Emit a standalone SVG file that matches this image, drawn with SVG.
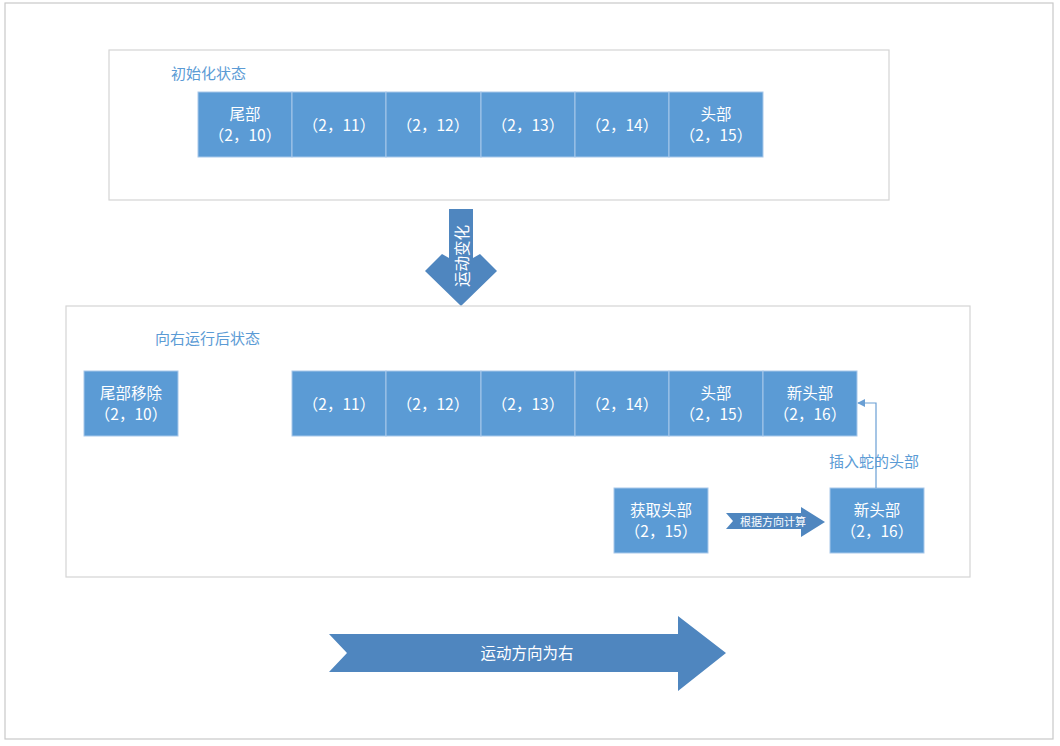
<svg xmlns="http://www.w3.org/2000/svg" width="1060" height="746" viewBox="0 0 1060 746">
<style>
.frame{fill:#fff;stroke:#c9c9c9;stroke-width:1.2}
.panel{fill:#fff;stroke:#d4d4d4;stroke-width:1.2}
.cell{fill:#5b9bd5;stroke:#a8c8ea;stroke-width:1}
.t{font-family:"Noto Sans CJK SC","Liberation Sans",sans-serif;font-size:15.5px;fill:#fff;text-anchor:middle;dominant-baseline:central}
.lbl{font-family:"Noto Sans CJK SC","Liberation Sans",sans-serif;font-size:15px;fill:#5b9bd5}
.big{fill:#4f86bf}
.line{fill:none;stroke:#6a9fd4;stroke-width:1.2}
</style>
<defs>
<marker id="ah" viewBox="0 0 10 10" refX="9" refY="5" markerWidth="8" markerHeight="8" markerUnits="userSpaceOnUse" orient="auto">
<path d="M0,0 L10,5 L0,10 z" fill="#6a9fd4"/>
</marker>
</defs>
<rect class="frame" x="5" y="3" width="1048" height="736"/>

<g id="panel-init">
<rect class="panel" x="109" y="50" width="780" height="150"/>
<text class="lbl" x="171" y="79">初始化状态</text>
</g>
<g id="init-c1"><rect class="cell" x="198" y="92" width="94" height="65"/><text class="t" x="245" y="112.5">尾部</text><text class="t" x="245" y="133.5">（2，10）</text></g>
<g id="init-c2"><rect class="cell" x="292" y="92" width="94" height="65"/><text class="t" x="339" y="123.5">（2，11）</text></g>
<g id="init-c3"><rect class="cell" x="386" y="92" width="95" height="65"/><text class="t" x="433" y="123.5">（2，12）</text></g>
<g id="init-c4"><rect class="cell" x="481" y="92" width="94" height="65"/><text class="t" x="528" y="123.5">（2，13）</text></g>
<g id="init-c5"><rect class="cell" x="575" y="92" width="94" height="65"/><text class="t" x="622" y="123.5">（2，14）</text></g>
<g id="init-c6"><rect class="cell" x="669" y="92" width="94" height="65"/><text class="t" x="716" y="112.5">头部</text><text class="t" x="716" y="133.5">（2，15）</text></g>

<g id="arrow-change">
<polygon class="big" points="449,209 473,209 473,258 480,254 497,271 461,306 425,271 442,254 449,258"/>
<text class="t" x="461" y="256" transform="rotate(-90 461 256)">运动变化</text>
</g>

<g id="panel-after">
<rect class="panel" x="66" y="306" width="904" height="271"/>
<text class="lbl" x="155" y="344">向右运行后状态</text>
</g>
<g id="tail-removed"><rect class="cell" x="84" y="371" width="94" height="65"/><text class="t" x="131" y="391.5">尾部移除</text><text class="t" x="131" y="412.5">（2，10）</text></g>
<g id="after-c1"><rect class="cell" x="292" y="371" width="94" height="65"/><text class="t" x="339" y="402.5">（2，11）</text></g>
<g id="after-c2"><rect class="cell" x="386" y="371" width="95" height="65"/><text class="t" x="433" y="402.5">（2，12）</text></g>
<g id="after-c3"><rect class="cell" x="481" y="371" width="94" height="65"/><text class="t" x="528" y="402.5">（2，13）</text></g>
<g id="after-c4"><rect class="cell" x="575" y="371" width="94" height="65"/><text class="t" x="622" y="402.5">（2，14）</text></g>
<g id="after-c5"><rect class="cell" x="669" y="371" width="94" height="65"/><text class="t" x="716" y="391.5">头部</text><text class="t" x="716" y="412.5">（2，15）</text></g>
<g id="after-c6"><rect class="cell" x="763" y="371" width="94" height="65"/><text class="t" x="810" y="391.5">新头部</text><text class="t" x="810" y="412.5">（2，16）</text></g>

<g id="get-head"><rect class="cell" x="614" y="488" width="94" height="65"/><text class="t" x="661" y="508.5">获取头部</text><text class="t" x="661" y="529.5">（2，15）</text></g>
<g id="new-head"><rect class="cell" x="830" y="488" width="94" height="65"/><text class="t" x="877" y="508.5">新头部</text><text class="t" x="877" y="529.5">（2，16）</text></g>

<g id="arrow-calc">
<polygon class="big" points="726,513 801,513 801,507 825,522 801,537 801,529 726,529 733,521"/>
<text class="t" x="773" y="520.5" style="font-size:11px">根据方向计算</text>
</g>

<g id="connectors">
<path class="line" d="M876,488 V403 H858" marker-end="url(#ah)"/>
<text class="lbl" x="829" y="467">插入蛇的头部</text>
</g>

<g id="arrow-direction">
<polygon class="big" points="329,634 678,634 678,616 726,653 678,691 678,672 329,672 347,653"/>
<text class="t" x="527" y="652">运动方向为右</text>
</g>
</svg>
